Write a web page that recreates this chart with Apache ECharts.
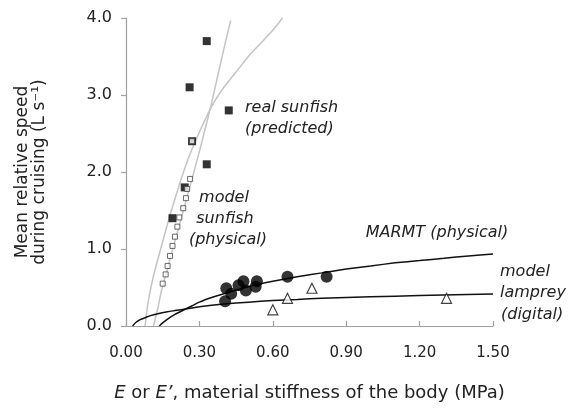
<!DOCTYPE html>
<html>
<head>
<meta charset="utf-8">
<script src="https://cdn.jsdelivr.net/npm/echarts@6/dist/echarts.min.js"></script>
<style>html,body{margin:0;padding:0;background:#fff}#c{width:568px;height:410px}</style>
</head>
<body>
<div id="c"></div>
<script>
var xTicks = [0, 0.3, 0.6, 0.9, 1.2, 1.5];
var yTicks = [0, 1, 2, 3, 4];
var realSunfish = [[0.33,3.70],[0.26,3.10],[0.42,2.80],[0.27,2.40],[0.33,2.10],[0.24,1.80],[0.19,1.40]];
var modelSunfish = [[0.27,2.40],[0.262,1.91],[0.25,1.78],[0.245,1.66],[0.234,1.53],[0.218,1.41],[0.21,1.29],[0.20,1.16],[0.19,1.04],[0.18,0.91],[0.17,0.78],[0.162,0.67],[0.15,0.55]];
var marmt = [[0.405,0.32],[0.41,0.49],[0.43,0.42],[0.46,0.53],[0.48,0.58],[0.49,0.46],[0.535,0.58],[0.53,0.51],[0.66,0.64],[0.82,0.64]];
var lamprey = [[0.60,0.21],[0.66,0.36],[0.76,0.49],[1.31,0.36]];
var marmtFit = [[0.136,0],[0.15,0.04],[0.17,0.09],[0.2,0.15],[0.25,0.23],[0.3,0.31],[0.35,0.37],[0.4,0.42],[0.5,0.51],[0.6,0.58],[0.7,0.64],[0.8,0.69],[0.9,0.74],[1.0,0.78],[1.1,0.82],[1.2,0.85],[1.3,0.88],[1.4,0.91],[1.5,0.935]];
var lampreyFit = [[0.027,0],[0.04,0.045],[0.06,0.085],[0.08,0.11],[0.1,0.135],[0.13,0.16],[0.17,0.185],[0.2,0.2],[0.25,0.225],[0.3,0.25],[0.4,0.285],[0.5,0.31],[0.6,0.33],[0.7,0.345],[0.8,0.36],[1.0,0.38],[1.2,0.395],[1.5,0.415]];
var sunfishFitCurve = [[0.078,0],[0.09,0.3],[0.11,0.62],[0.14,0.98],[0.17,1.33],[0.2,1.65],[0.23,1.95],[0.26,2.22],[0.3,2.52],[0.35,2.85],[0.4,3.1],[0.45,3.3],[0.5,3.5],[0.55,3.67],[0.6,3.84],[0.64,4.0]];
var sunfishFitSteep = [[0.112,0],[0.13,0.23],[0.146,0.47],[0.2,1.1],[0.25,1.68],[0.302,2.29],[0.35,2.9],[0.4,3.6],[0.428,3.97]];

var FONT = 'DejaVu Sans';
var LBL = 'italic 16px "DejaVu Sans"';
var chart = echarts.init(document.getElementById('c'), null, {renderer:'canvas'});
var lineSeries = function(data, color){
  return {type:'line', data:data, smooth:0.2, showSymbol:false, symbol:'none', silent:true,
    lineStyle:{color:color, width:1.5}, z:1};
};
chart.setOption({
  animation:false,
  grid:{left:126, right:75, top:18, bottom:84},
  xAxis:{type:'value', min:xTicks[0], max:xTicks[xTicks.length-1], interval:0.3,
    axisLine:{lineStyle:{color:'#a0a0a0', width:1.2}},
    axisTick:{inside:true, length:5, lineStyle:{color:'#a0a0a0', width:1.2}},
    axisLabel:{formatter:function(v){return v.toFixed(2);}, color:'#222', fontFamily:FONT, fontSize:15, margin:20},
    splitLine:{show:false},
    name:'{i|E} or {i|E’}, material stiffness of the body (MPa)',
    nameLocation:'middle', nameGap:58,
    nameTextStyle:{color:'#222', fontFamily:FONT, fontSize:18, rich:{i:{fontStyle:'italic', fontFamily:FONT, fontSize:18, color:'#222'}}}
  },
  yAxis:{type:'value', min:yTicks[0], max:yTicks[yTicks.length-1], interval:1,
    axisLine:{show:true, lineStyle:{color:'#a0a0a0', width:1.2}},
    axisTick:{show:true, length:5, lineStyle:{color:'#a0a0a0', width:1.2}},
    axisLabel:{formatter:function(v){return v.toFixed(1);}, color:'#222', fontFamily:FONT, fontSize:16, margin:14},
    splitLine:{show:false},
    name:'Mean relative speed\nduring cruising (L s⁻¹)',
    nameLocation:'middle', nameGap:78, nameRotate:90,
    nameTextStyle:{color:'#222', fontFamily:FONT, fontSize:17, lineHeight:17}
  },
  series:[
    lineSeries(sunfishFitCurve,'#c4c4c4'),
    lineSeries(sunfishFitSteep,'#c4c4c4'),
    lineSeries(marmtFit,'#111'),
    lineSeries(lampreyFit,'#111'),
    {type:'scatter', data:modelSunfish, symbol:'rect', symbolSize:5,
      itemStyle:{color:'#fff', borderColor:'#444', borderWidth:1}, z:3},
    {type:'scatter', data:realSunfish, symbol:'rect', symbolSize:8,
      itemStyle:{color:'#000'}, z:2},
    {type:'scatter', data:marmt, symbol:'circle', symbolSize:12,
      itemStyle:{color:'#000'}, z:3},
    {type:'scatter', data:lamprey, symbol:'triangle', symbolSize:10,
      itemStyle:{color:'#fff', borderColor:'#111', borderWidth:1.2}, z:3}
  ],
  graphic:[
    {type:'text', x:245, y:108, style:{text:'real sunfish', font:LBL, fill:'#222', verticalAlign:'middle'}},
    {type:'text', x:245, y:129, style:{text:'(predicted)', font:LBL, fill:'#222', verticalAlign:'middle'}},
    {type:'text', x:224, y:198, style:{text:'model', font:LBL, fill:'#222', align:'center', verticalAlign:'middle'}},
    {type:'text', x:225, y:219, style:{text:'sunfish', font:LBL, fill:'#222', align:'center', verticalAlign:'middle'}},
    {type:'text', x:228, y:240, style:{text:'(physical)', font:LBL, fill:'#222', align:'center', verticalAlign:'middle'}},
    {type:'text', x:437, y:233, style:{text:'MARMT (physical)', font:LBL, fill:'#222', align:'center', verticalAlign:'middle'}},
    {type:'text', x:500, y:272, style:{text:'model', font:LBL, fill:'#222', verticalAlign:'middle'}},
    {type:'text', x:500, y:293, style:{text:'lamprey', font:LBL, fill:'#222', verticalAlign:'middle'}},
    {type:'text', x:501, y:315, style:{text:'(digital)', font:LBL, fill:'#222', verticalAlign:'middle'}}
  ]
});
</script>
</body>
</html>
